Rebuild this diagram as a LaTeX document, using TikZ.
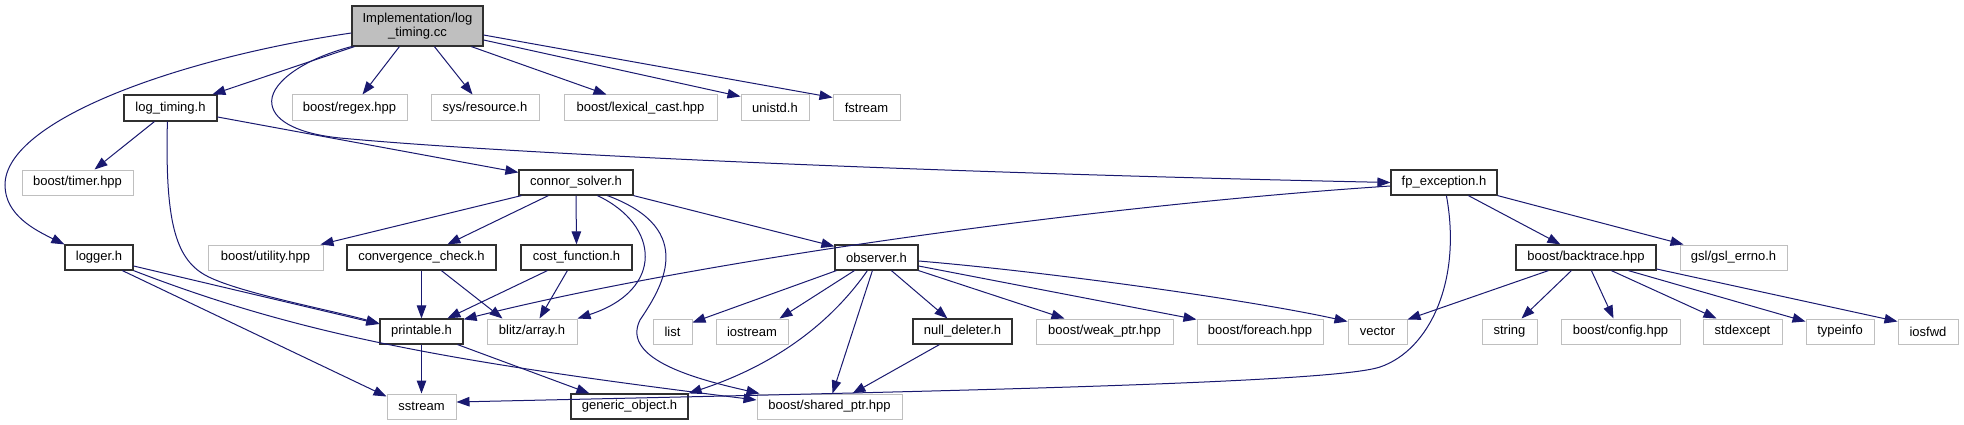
\documentclass[tikz,border=0pt]{standalone}
\usepackage{fontspec}
\setmainfont{Liberation Sans}
\usetikzlibrary{arrows.meta}
\definecolor{edgeblue}{HTML}{191970}
\definecolor{extgrey}{HTML}{BFBFBF}
\definecolor{rootfill}{HTML}{BFBFBF}
\definecolor{boxline}{HTML}{303030}
\begin{document}
\begin{tikzpicture}[x=1pt,y=-1pt,
  box/.style={draw=boxline, line width=1.2pt, fill=white, minimum height=25pt, inner sep=0pt, font=\fontsize{13}{14}\selectfont, text=black},
  ext/.style={box, draw=extgrey, line width=1pt},
  edge/.style={draw=edgeblue, line width=1pt, -{Triangle[length=13pt,width=9.5pt]}}]
\useasboundingbox[fill=white] (0,0) rectangle (1964,425);
% row 0
\node[box, fill=rootfill, minimum width=131pt, minimum height=40pt, align=center] (root) at (417.5,26) {Implementation/log\\\_timing.cc};
% row 1
\node[box, minimum width=93pt, minimum height=26pt] (logtiming) at (170.5,108) {log\_timing.h};
\node[ext, minimum width=115pt, minimum height=26pt] (regex) at (349.5,108) {boost/regex.hpp};
\node[ext, minimum width=108pt, minimum height=26pt] (resource) at (485,108) {sys/resource.h};
\node[ext, minimum width=153pt, minimum height=26pt] (lexical) at (640.5,108) {boost/lexical\_cast.hpp};
\node[ext, minimum width=68pt, minimum height=26pt] (unistd) at (775,108) {unistd.h};
\node[ext, minimum width=67pt, minimum height=26pt] (fstream) at (866.5,108) {fstream};
% row 2
\node[ext, minimum width=111pt] (timer) at (77.5,182.5) {boost/timer.hpp};
\node[box, minimum width=114pt] (connor) at (576,182.5) {connor\_solver.h};
\node[box, minimum width=106pt] (fp) at (1444,182.5) {fp\_exception.h};
% row 3
\node[box, minimum width=68pt] (logger) at (99,257.5) {logger.h};
\node[ext, minimum width=115pt] (utility) at (265.5,257.5) {boost/utility.hpp};
\node[box, minimum width=149pt] (conv) at (421.5,257.5) {convergence\_check.h};
\node[box, minimum width=111pt] (cost) at (576.5,257.5) {cost\_function.h};
\node[box, minimum width=83pt] (observer) at (876.5,257.5) {observer.h};
\node[box, minimum width=140pt] (backtrace) at (1586,257.5) {boost/backtrace.hpp};
\node[ext, minimum width=107pt] (gsl) at (1733.5,257.5) {gsl/gsl\_errno.h};
% row 4
\node[box, minimum width=83pt] (printable) at (421.5,331.5) {printable.h};
\node[ext, minimum width=90pt] (blitz) at (532,331.5) {blitz/array.h};
\node[ext, minimum width=39pt] (list) at (672.5,331.5) {list};
\node[ext, minimum width=72pt] (iostream) at (752,331.5) {iostream};
\node[box, minimum width=99pt] (nulldel) at (962.5,331.5) {null\_deleter.h};
\node[ext, minimum width=137pt] (weak) at (1104.5,331.5) {boost/weak\_ptr.hpp};
\node[ext, minimum width=126pt] (foreach) at (1260,331.5) {boost/foreach.hpp};
\node[ext, minimum width=59pt] (vector) at (1377.5,331.5) {vector};
\node[ext, minimum width=55pt] (string) at (1509.5,331.5) {string};
\node[ext, minimum width=119pt] (config) at (1620.5,331.5) {boost/config.hpp};
\node[ext, minimum width=79pt] (stdexcept) at (1742.5,331.5) {stdexcept};
\node[ext, minimum width=68pt] (typeinfo) at (1840,331.5) {typeinfo};
\node[ext, minimum width=60pt] (iosfwd) at (1928,331.5) {iosfwd};
% row 5
\node[ext, minimum width=69pt] (sstream) at (421.5,406.5) {sstream};
\node[box, minimum width=117pt] (generic) at (629.5,406.5) {generic\_object.h};
\node[ext, minimum width=145pt] (shared) at (829.5,406.5) {boost/shared\_ptr.hpp};

% edges from root
\draw[edge] ([xshift=3pt]root.south west) -- ([xshift=89pt]logtiming.north west);
\draw[edge] ([xshift=48pt]root.south west) -- ([xshift=71pt]regex.north west);
\draw[edge] ([xshift=83pt]root.south west) -- ([xshift=42pt]resource.north west);
\draw[edge] ([xshift=120pt]root.south west) -- ([xshift=43pt]lexical.north west);
\draw[edge] ([yshift=-14pt]root.east) -- ([yshift=-2pt]unistd.north west);
\draw[edge] ([yshift=-9pt]root.east) -- ([yshift=-3pt]fstream.north west);
\draw[edge] ([yshift=-7pt]root.west) .. controls (180,58) and (5,120) .. (5,185)
  .. controls (5,215) and (35,230) .. (logger.north west);
\draw[edge] (root.south west) .. controls (300,60) and (268,85) .. (272,105)
  .. controls (275,122) and (300,134) .. (340,138)
  .. controls (500,153) and (900,172) .. (fp.west);
% log_timing.h
\draw[edge] ([xshift=31pt]logtiming.south west) -- ([xshift=73pt]timer.north west);
\draw[edge] ([xshift=44pt]logtiming.south west) .. controls (165,220) and (175,258) .. (205,275)
  .. controls (235,292) and (330,310) .. ([yshift=8pt]printable.west);
\draw[edge] ([yshift=-9pt]logtiming.east) -- ([yshift=-3pt]connor.north west);
% logger.h
\draw[edge] ([yshift=-8.5pt]logger.east) -- ([yshift=7.5pt]printable.west);
\draw[edge] ([xshift=58pt]logger.south west) -- ([yshift=-3pt]sstream.north west);
\draw[edge] (logger.south east) .. controls (300,335) and (450,362) .. ([yshift=6.5pt]shared.west);
% convergence_check.h / cost_function.h
\draw[edge] (conv.south) -- (printable.north);
\draw[edge] ([xshift=95pt]conv.south west) -- ([xshift=16pt]blitz.north west);
\draw[edge] ([xshift=27pt]cost.south west) -- ([xshift=68pt]printable.north west);
\draw[edge] ([xshift=47pt]cost.south west) -- ([xshift=53pt]blitz.north west);
% fp_exception.h
\draw[edge] ([yshift=-3.5pt]fp.west) .. controls (1100,205) and (700,260) .. ([yshift=-1pt]printable.north east);
\draw[edge] ([xshift=78pt]fp.south west) -- ([xshift=45pt]backtrace.north west);
\draw[edge] (fp.south east) -- ([xshift=4pt]gsl.north west);
\draw[edge] ([xshift=56pt]fp.south west) .. controls (1462,280) and (1430,350) .. (1380,367)
  .. controls (1330,384) and (900,392) .. ([yshift=4.5pt]sstream.east);
% connor_solver.h
\draw[edge] ([xshift=3pt]connor.south west) -- ([xshift=-3pt]utility.north east);
\draw[edge] ([xshift=30pt]connor.south west) -- ([xshift=101pt]conv.north west);
\draw[edge] (connor.south) -- (cost.north);
\draw[edge] (connor.south east) -- ([yshift=-2pt]observer.north west);
\draw[edge] ([xshift=79pt]connor.south west) .. controls (660,225) and (665,290) .. (blitz.north east);
\draw[edge] ([xshift=89pt]connor.south west) .. controls (700,230) and (660,290) .. (640,320)
  .. controls (620,360) and (700,380) .. ([xshift=3pt]shared.north west);
% printable.h
\draw[edge] (printable.south) -- (sstream.north);
\draw[edge] ([xshift=-6pt]printable.south east) -- ([xshift=19pt]generic.north west);
% observer.h
\draw[edge] ([xshift=2pt]observer.south west) -- ([yshift=-4pt]list.north east);
\draw[edge] ([xshift=20pt]observer.south west) -- ([xshift=64pt]iostream.north west);
\draw[edge] ([xshift=33pt]observer.south west) .. controls (840,310) and (790,360) .. (generic.north east);
\draw[edge] ([xshift=38pt]observer.south west) -- ([xshift=76pt]shared.north west);
\draw[edge] ([xshift=57pt]observer.south west) -- ([xshift=35pt]nulldel.north west);
\draw[edge] (observer.south east) -- ([xshift=29pt]weak.north west);
\draw[edge] ([yshift=-8.5pt]observer.east) -- ([yshift=-1pt]foreach.north west);
\draw[edge] ([yshift=-3.5pt]observer.east) .. controls (1050,272) and (1250,300) .. ([yshift=-3pt]vector.north west);
% null_deleter.h
\draw[edge] ([xshift=27pt]nulldel.south west) -- ([xshift=96pt]shared.north west);
% boost/backtrace.hpp
\draw[edge] ([xshift=33pt]backtrace.south west) -- ([yshift=-1pt]vector.north east);
\draw[edge] ([xshift=56pt]backtrace.south west) -- ([xshift=40pt]string.north west);
\draw[edge] ([xshift=76pt]backtrace.south west) -- ([xshift=53pt]config.north west);
\draw[edge] ([xshift=96pt]backtrace.south west) -- ([xshift=14pt]stdexcept.north west);
\draw[edge] ([xshift=113pt]backtrace.south west) -- ([yshift=-3pt]typeinfo.north west);
\draw[edge] ([yshift=-11.5pt]backtrace.east) -- ([yshift=-3pt]iosfwd.north west);
\end{tikzpicture}
\end{document}
